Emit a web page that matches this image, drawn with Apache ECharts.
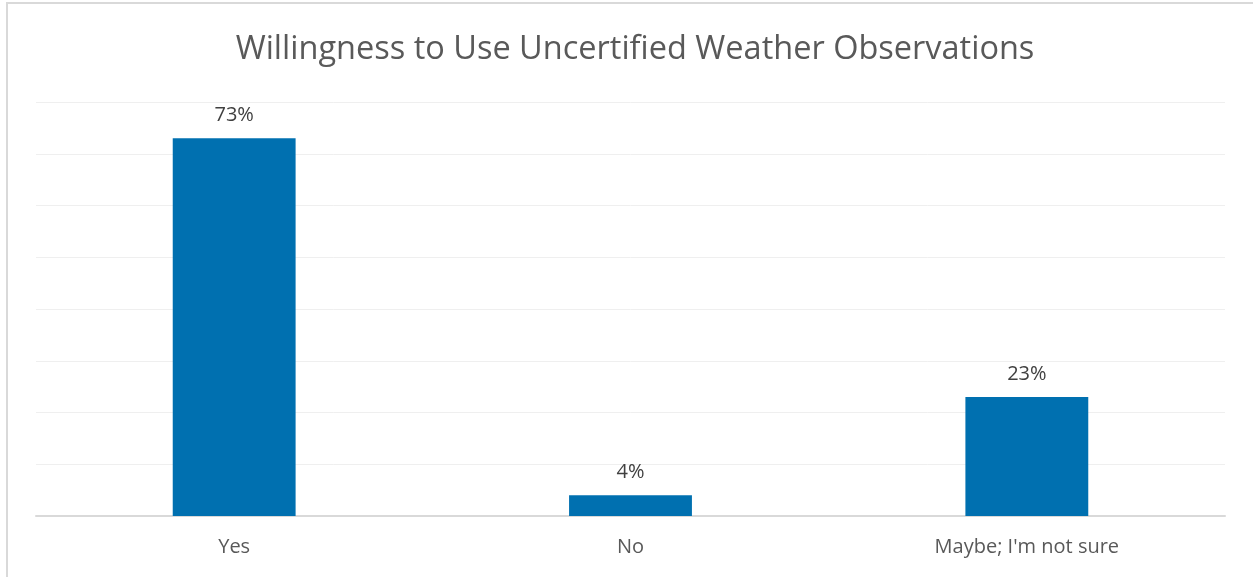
<!DOCTYPE html>
<html><head><meta charset="utf-8">
<script src="https://cdn.jsdelivr.net/npm/echarts@6/dist/echarts.min.js"></script>
<style>
html,body{margin:0;padding:0;background:#fff;}
#frame{position:absolute;left:6px;top:2px;width:1260px;height:600px;border:2px solid #d9d9d9;box-sizing:border-box;}
#c{position:absolute;left:0;top:0;width:1253px;height:577px;}
</style></head><body>
<div id="frame"></div>
<div id="c"></div>
<script>
const categories = ["Yes", "No", "Maybe; I'm not sure"];
const values = [0.73, 0.04, 0.23];
const chart = echarts.init(document.getElementById('c'));
chart.setOption({
  animation: false,
  title: {
    text: 'Willingness to Use Uncertified Weather Observations',
    left: 630, top: 28, textAlign: 'center',
    textStyle: {fontFamily: 'Open Sans', fontSize: 32.5, fontWeight: 'normal', color: '#595959'}
  },
  grid: {left: 36, right: 28, top: 102, bottom: 61},
  xAxis: {
    type: 'category', data: categories,
    axisLine: {lineStyle: {color: '#d9d9d9', width: 2}},
    axisTick: {show: false},
    axisLabel: {fontFamily: 'Open Sans', fontSize: 20, color: '#595959', margin: 21}
  },
  yAxis: {
    type: 'value', min: 0, max: 0.8, interval: 0.1,
    axisLabel: {show: false}, axisLine: {show: false}, axisTick: {show: false},
    splitLine: {lineStyle: {color: '#efefef', width: 1}}
  },
  series: [{
    type: 'bar', data: values, barWidth: '31%',
    itemStyle: {color: '#0070b0'},
    label: {show: true, position: 'top', distance: 13,
      fontFamily: 'Open Sans', fontSize: 20, color: '#404040',
      formatter: p => Math.round(p.value * 100) + '%'}
  }]
});
</script>
</body></html>
